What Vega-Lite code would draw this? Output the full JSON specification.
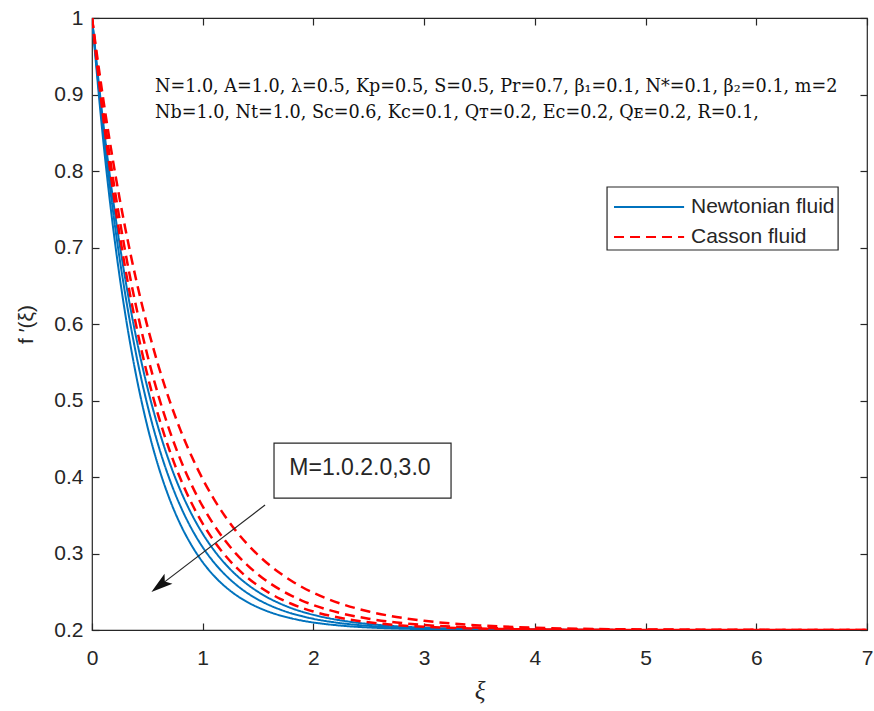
{
  "$schema": "https://vega.github.io/schema/vega-lite/v6.json",
  "autosize": {"type": "none"},
  "padding": {"left": 92, "top": 18, "right": 7, "bottom": 81},
  "width": 775,
  "height": 612,
  "background": "white",
  "datasets": {
    "curves": [
      {"xi":0,"f":1,"c":"N1","fluid":"Newtonian fluid"},{"xi":0.1,"f":0.842,"c":"N1","fluid":"Newtonian fluid"},{"xi":0.2,"f":0.7152,"c":"N1","fluid":"Newtonian fluid"},{"xi":0.3,"f":0.6135,"c":"N1","fluid":"Newtonian fluid"},{"xi":0.4,"f":0.5318,"c":"N1","fluid":"Newtonian fluid"},{"xi":0.5,"f":0.4663,"c":"N1","fluid":"Newtonian fluid"},{"xi":0.6,"f":0.4137,"c":"N1","fluid":"Newtonian fluid"},{"xi":0.7,"f":0.3715,"c":"N1","fluid":"Newtonian fluid"},{"xi":0.8,"f":0.3376,"c":"N1","fluid":"Newtonian fluid"},{"xi":0.9,"f":0.3105,"c":"N1","fluid":"Newtonian fluid"},{"xi":1,"f":0.2886,"c":"N1","fluid":"Newtonian fluid"},{"xi":1.1,"f":0.2711,"c":"N1","fluid":"Newtonian fluid"},{"xi":1.2,"f":0.2571,"c":"N1","fluid":"Newtonian fluid"},{"xi":1.3,"f":0.2458,"c":"N1","fluid":"Newtonian fluid"},{"xi":1.4,"f":0.2368,"c":"N1","fluid":"Newtonian fluid"},{"xi":1.5,"f":0.2295,"c":"N1","fluid":"Newtonian fluid"},{"xi":1.6,"f":0.2237,"c":"N1","fluid":"Newtonian fluid"},{"xi":1.7,"f":0.219,"c":"N1","fluid":"Newtonian fluid"},{"xi":1.8,"f":0.2153,"c":"N1","fluid":"Newtonian fluid"},{"xi":1.9,"f":0.2122,"c":"N1","fluid":"Newtonian fluid"},{"xi":2,"f":0.2098,"c":"N1","fluid":"Newtonian fluid"},{"xi":2.25,"f":0.2057,"c":"N1","fluid":"Newtonian fluid"},{"xi":2.5,"f":0.2033,"c":"N1","fluid":"Newtonian fluid"},{"xi":2.75,"f":0.2019,"c":"N1","fluid":"Newtonian fluid"},{"xi":3,"f":0.2011,"c":"N1","fluid":"Newtonian fluid"},{"xi":3.5,"f":0.2004,"c":"N1","fluid":"Newtonian fluid"},{"xi":4,"f":0.2001,"c":"N1","fluid":"Newtonian fluid"},{"xi":5,"f":0.2,"c":"N1","fluid":"Newtonian fluid"},{"xi":6,"f":0.2,"c":"N1","fluid":"Newtonian fluid"},{"xi":7,"f":0.2,"c":"N1","fluid":"Newtonian fluid"},
      {"xi":0,"f":1,"c":"N2","fluid":"Newtonian fluid"},{"xi":0.1,"f":0.855,"c":"N2","fluid":"Newtonian fluid"},{"xi":0.2,"f":0.7362,"c":"N2","fluid":"Newtonian fluid"},{"xi":0.3,"f":0.639,"c":"N2","fluid":"Newtonian fluid"},{"xi":0.4,"f":0.5594,"c":"N2","fluid":"Newtonian fluid"},{"xi":0.5,"f":0.4943,"c":"N2","fluid":"Newtonian fluid"},{"xi":0.6,"f":0.441,"c":"N2","fluid":"Newtonian fluid"},{"xi":0.7,"f":0.3973,"c":"N2","fluid":"Newtonian fluid"},{"xi":0.8,"f":0.3615,"c":"N2","fluid":"Newtonian fluid"},{"xi":0.9,"f":0.3322,"c":"N2","fluid":"Newtonian fluid"},{"xi":1,"f":0.3082,"c":"N2","fluid":"Newtonian fluid"},{"xi":1.1,"f":0.2886,"c":"N2","fluid":"Newtonian fluid"},{"xi":1.2,"f":0.2726,"c":"N2","fluid":"Newtonian fluid"},{"xi":1.3,"f":0.2594,"c":"N2","fluid":"Newtonian fluid"},{"xi":1.4,"f":0.2486,"c":"N2","fluid":"Newtonian fluid"},{"xi":1.5,"f":0.2398,"c":"N2","fluid":"Newtonian fluid"},{"xi":1.6,"f":0.2326,"c":"N2","fluid":"Newtonian fluid"},{"xi":1.7,"f":0.2267,"c":"N2","fluid":"Newtonian fluid"},{"xi":1.8,"f":0.2218,"c":"N2","fluid":"Newtonian fluid"},{"xi":1.9,"f":0.2179,"c":"N2","fluid":"Newtonian fluid"},{"xi":2,"f":0.2146,"c":"N2","fluid":"Newtonian fluid"},{"xi":2.25,"f":0.2089,"c":"N2","fluid":"Newtonian fluid"},{"xi":2.5,"f":0.2054,"c":"N2","fluid":"Newtonian fluid"},{"xi":2.75,"f":0.2033,"c":"N2","fluid":"Newtonian fluid"},{"xi":3,"f":0.202,"c":"N2","fluid":"Newtonian fluid"},{"xi":3.5,"f":0.2007,"c":"N2","fluid":"Newtonian fluid"},{"xi":4,"f":0.2003,"c":"N2","fluid":"Newtonian fluid"},{"xi":5,"f":0.2,"c":"N2","fluid":"Newtonian fluid"},{"xi":6,"f":0.2,"c":"N2","fluid":"Newtonian fluid"},{"xi":7,"f":0.2,"c":"N2","fluid":"Newtonian fluid"},
      {"xi":0,"f":1,"c":"N3","fluid":"Newtonian fluid"},{"xi":0.1,"f":0.8649,"c":"N3","fluid":"Newtonian fluid"},{"xi":0.2,"f":0.7526,"c":"N3","fluid":"Newtonian fluid"},{"xi":0.3,"f":0.6593,"c":"N3","fluid":"Newtonian fluid"},{"xi":0.4,"f":0.5817,"c":"N3","fluid":"Newtonian fluid"},{"xi":0.5,"f":0.5172,"c":"N3","fluid":"Newtonian fluid"},{"xi":0.6,"f":0.4637,"c":"N3","fluid":"Newtonian fluid"},{"xi":0.7,"f":0.4191,"c":"N3","fluid":"Newtonian fluid"},{"xi":0.8,"f":0.3821,"c":"N3","fluid":"Newtonian fluid"},{"xi":0.9,"f":0.3514,"c":"N3","fluid":"Newtonian fluid"},{"xi":1,"f":0.3258,"c":"N3","fluid":"Newtonian fluid"},{"xi":1.1,"f":0.3046,"c":"N3","fluid":"Newtonian fluid"},{"xi":1.2,"f":0.2869,"c":"N3","fluid":"Newtonian fluid"},{"xi":1.3,"f":0.2722,"c":"N3","fluid":"Newtonian fluid"},{"xi":1.4,"f":0.26,"c":"N3","fluid":"Newtonian fluid"},{"xi":1.5,"f":0.2499,"c":"N3","fluid":"Newtonian fluid"},{"xi":1.6,"f":0.2414,"c":"N3","fluid":"Newtonian fluid"},{"xi":1.7,"f":0.2345,"c":"N3","fluid":"Newtonian fluid"},{"xi":1.8,"f":0.2286,"c":"N3","fluid":"Newtonian fluid"},{"xi":1.9,"f":0.2238,"c":"N3","fluid":"Newtonian fluid"},{"xi":2,"f":0.2198,"c":"N3","fluid":"Newtonian fluid"},{"xi":2.25,"f":0.2125,"c":"N3","fluid":"Newtonian fluid"},{"xi":2.5,"f":0.2078,"c":"N3","fluid":"Newtonian fluid"},{"xi":2.75,"f":0.2049,"c":"N3","fluid":"Newtonian fluid"},{"xi":3,"f":0.2031,"c":"N3","fluid":"Newtonian fluid"},{"xi":3.5,"f":0.2012,"c":"N3","fluid":"Newtonian fluid"},{"xi":4,"f":0.2005,"c":"N3","fluid":"Newtonian fluid"},{"xi":5,"f":0.2001,"c":"N3","fluid":"Newtonian fluid"},{"xi":6,"f":0.2,"c":"N3","fluid":"Newtonian fluid"},{"xi":7,"f":0.2,"c":"N3","fluid":"Newtonian fluid"},
      {"xi":0,"f":1,"c":"C1","fluid":"Casson fluid"},{"xi":0.1,"f":0.8716,"c":"C1","fluid":"Casson fluid"},{"xi":0.2,"f":0.7638,"c":"C1","fluid":"Casson fluid"},{"xi":0.3,"f":0.6733,"c":"C1","fluid":"Casson fluid"},{"xi":0.4,"f":0.5973,"c":"C1","fluid":"Casson fluid"},{"xi":0.5,"f":0.5335,"c":"C1","fluid":"Casson fluid"},{"xi":0.6,"f":0.4799,"c":"C1","fluid":"Casson fluid"},{"xi":0.7,"f":0.435,"c":"C1","fluid":"Casson fluid"},{"xi":0.8,"f":0.3973,"c":"C1","fluid":"Casson fluid"},{"xi":0.9,"f":0.3656,"c":"C1","fluid":"Casson fluid"},{"xi":1,"f":0.339,"c":"C1","fluid":"Casson fluid"},{"xi":1.1,"f":0.3167,"c":"C1","fluid":"Casson fluid"},{"xi":1.2,"f":0.298,"c":"C1","fluid":"Casson fluid"},{"xi":1.3,"f":0.2822,"c":"C1","fluid":"Casson fluid"},{"xi":1.4,"f":0.269,"c":"C1","fluid":"Casson fluid"},{"xi":1.5,"f":0.2579,"c":"C1","fluid":"Casson fluid"},{"xi":1.6,"f":0.2486,"c":"C1","fluid":"Casson fluid"},{"xi":1.7,"f":0.2408,"c":"C1","fluid":"Casson fluid"},{"xi":1.8,"f":0.2343,"c":"C1","fluid":"Casson fluid"},{"xi":1.9,"f":0.2288,"c":"C1","fluid":"Casson fluid"},{"xi":2,"f":0.2242,"c":"C1","fluid":"Casson fluid"},{"xi":2.25,"f":0.2156,"c":"C1","fluid":"Casson fluid"},{"xi":2.5,"f":0.2101,"c":"C1","fluid":"Casson fluid"},{"xi":2.75,"f":0.2065,"c":"C1","fluid":"Casson fluid"},{"xi":3,"f":0.2042,"c":"C1","fluid":"Casson fluid"},{"xi":3.5,"f":0.2018,"c":"C1","fluid":"Casson fluid"},{"xi":4,"f":0.2007,"c":"C1","fluid":"Casson fluid"},{"xi":5,"f":0.2001,"c":"C1","fluid":"Casson fluid"},{"xi":6,"f":0.2,"c":"C1","fluid":"Casson fluid"},{"xi":7,"f":0.2,"c":"C1","fluid":"Casson fluid"},
      {"xi":0,"f":1,"c":"C2","fluid":"Casson fluid"},{"xi":0.1,"f":0.8817,"c":"C2","fluid":"Casson fluid"},{"xi":0.2,"f":0.7809,"c":"C2","fluid":"Casson fluid"},{"xi":0.3,"f":0.695,"c":"C2","fluid":"Casson fluid"},{"xi":0.4,"f":0.6218,"c":"C2","fluid":"Casson fluid"},{"xi":0.5,"f":0.5594,"c":"C2","fluid":"Casson fluid"},{"xi":0.6,"f":0.5063,"c":"C2","fluid":"Casson fluid"},{"xi":0.7,"f":0.461,"c":"C2","fluid":"Casson fluid"},{"xi":0.8,"f":0.4224,"c":"C2","fluid":"Casson fluid"},{"xi":0.9,"f":0.3895,"c":"C2","fluid":"Casson fluid"},{"xi":1,"f":0.3615,"c":"C2","fluid":"Casson fluid"},{"xi":1.1,"f":0.3376,"c":"C2","fluid":"Casson fluid"},{"xi":1.2,"f":0.3173,"c":"C2","fluid":"Casson fluid"},{"xi":1.3,"f":0.2999,"c":"C2","fluid":"Casson fluid"},{"xi":1.4,"f":0.2852,"c":"C2","fluid":"Casson fluid"},{"xi":1.5,"f":0.2726,"c":"C2","fluid":"Casson fluid"},{"xi":1.6,"f":0.2618,"c":"C2","fluid":"Casson fluid"},{"xi":1.7,"f":0.2527,"c":"C2","fluid":"Casson fluid"},{"xi":1.8,"f":0.2449,"c":"C2","fluid":"Casson fluid"},{"xi":1.9,"f":0.2382,"c":"C2","fluid":"Casson fluid"},{"xi":2,"f":0.2326,"c":"C2","fluid":"Casson fluid"},{"xi":2.25,"f":0.2219,"c":"C2","fluid":"Casson fluid"},{"xi":2.5,"f":0.2147,"c":"C2","fluid":"Casson fluid"},{"xi":2.75,"f":0.2098,"c":"C2","fluid":"Casson fluid"},{"xi":3,"f":0.2066,"c":"C2","fluid":"Casson fluid"},{"xi":3.5,"f":0.203,"c":"C2","fluid":"Casson fluid"},{"xi":4,"f":0.2013,"c":"C2","fluid":"Casson fluid"},{"xi":5,"f":0.2003,"c":"C2","fluid":"Casson fluid"},{"xi":6,"f":0.2001,"c":"C2","fluid":"Casson fluid"},{"xi":7,"f":0.2,"c":"C2","fluid":"Casson fluid"},
      {"xi":0,"f":1,"c":"C3","fluid":"Casson fluid"},{"xi":0.1,"f":0.8955,"c":"C3","fluid":"Casson fluid"},{"xi":0.2,"f":0.8046,"c":"C3","fluid":"Casson fluid"},{"xi":0.3,"f":0.7256,"c":"C3","fluid":"Casson fluid"},{"xi":0.4,"f":0.657,"c":"C3","fluid":"Casson fluid"},{"xi":0.5,"f":0.5973,"c":"C3","fluid":"Casson fluid"},{"xi":0.6,"f":0.5454,"c":"C3","fluid":"Casson fluid"},{"xi":0.7,"f":0.5002,"c":"C3","fluid":"Casson fluid"},{"xi":0.8,"f":0.461,"c":"C3","fluid":"Casson fluid"},{"xi":0.9,"f":0.427,"c":"C3","fluid":"Casson fluid"},{"xi":1,"f":0.3973,"c":"C3","fluid":"Casson fluid"},{"xi":1.1,"f":0.3715,"c":"C3","fluid":"Casson fluid"},{"xi":1.2,"f":0.3491,"c":"C3","fluid":"Casson fluid"},{"xi":1.3,"f":0.3296,"c":"C3","fluid":"Casson fluid"},{"xi":1.4,"f":0.3127,"c":"C3","fluid":"Casson fluid"},{"xi":1.5,"f":0.298,"c":"C3","fluid":"Casson fluid"},{"xi":1.6,"f":0.2852,"c":"C3","fluid":"Casson fluid"},{"xi":1.7,"f":0.2741,"c":"C3","fluid":"Casson fluid"},{"xi":1.8,"f":0.2644,"c":"C3","fluid":"Casson fluid"},{"xi":1.9,"f":0.2559,"c":"C3","fluid":"Casson fluid"},{"xi":2,"f":0.2486,"c":"C3","fluid":"Casson fluid"},{"xi":2.25,"f":0.2343,"c":"C3","fluid":"Casson fluid"},{"xi":2.5,"f":0.2242,"c":"C3","fluid":"Casson fluid"},{"xi":2.75,"f":0.217,"c":"C3","fluid":"Casson fluid"},{"xi":3,"f":0.212,"c":"C3","fluid":"Casson fluid"},{"xi":3.5,"f":0.206,"c":"C3","fluid":"Casson fluid"},{"xi":4,"f":0.203,"c":"C3","fluid":"Casson fluid"},{"xi":5,"f":0.2007,"c":"C3","fluid":"Casson fluid"},{"xi":6,"f":0.2002,"c":"C3","fluid":"Casson fluid"},{"xi":7,"f":0.2,"c":"C3","fluid":"Casson fluid"}
    ],
    "legendRows": [
      {"x1": 4.715, "x2": 5.348, "f": 0.7529, "tx": 5.41, "fluid": "Newtonian fluid"},
      {"x1": 4.715, "x2": 5.348, "f": 0.7137, "tx": 5.41, "fluid": "Casson fluid"}
    ]
  },
  "layer": [
    {
      "data": {"name": "curves"},
      "transform": [{"filter": "datum.fluid == 'Newtonian fluid'"}],
      "mark": {"type": "line", "strokeWidth": 2, "interpolate": "monotone", "clip": true},
      "encoding": {
        "x": {"field": "xi", "type": "quantitative", "scale": {"domain": [0, 7], "nice": false},
              "axis": {"title": "ξ", "values": [0,1,2,3,4,5,6,7], "labelPadding": 24, "titleFont": "Liberation Serif", "titleFontStyle": "italic", "titleFontSize": 25, "titleFontWeight": "normal", "titlePadding": 10}},
        "y": {"field": "f", "type": "quantitative", "scale": {"domain": [0.2, 1], "nice": false},
              "axis": {"title": "f ′(ξ)", "values": [0.2,0.3,0.4,0.5,0.6,0.7,0.8,0.9,1], "format": ".1~f", "labelPadding": 16, "titleFont": "Liberation Sans", "titleFontSize": 21, "titleFontWeight": "normal", "titlePadding": 17}},
        "color": {"field": "fluid", "type": "nominal", "scale": {"domain": ["Newtonian fluid", "Casson fluid"], "range": ["#0072BD", "#FF0000"]}, "legend": null},
        "strokeDash": {"field": "fluid", "type": "nominal", "scale": {"domain": ["Newtonian fluid", "Casson fluid"], "range": [[1, 0], [10, 6]]}, "legend": null},
        "detail": {"field": "c"}
      }
    },
    {
      "data": {"name": "curves"},
      "transform": [{"filter": "datum.fluid == 'Casson fluid'"}],
      "mark": {"type": "line", "strokeWidth": 2.5, "interpolate": "monotone", "clip": true},
      "encoding": {
        "x": {"field": "xi", "type": "quantitative", "axis": null},
        "y": {"field": "f", "type": "quantitative", "axis": null},
        "color": {"field": "fluid", "type": "nominal", "legend": null},
        "strokeDash": {"field": "fluid", "type": "nominal", "legend": null},
        "detail": {"field": "c"}
      }
    },
    {
      "data": {"values": [
        {"xi": 0.569, "f": 0.9098, "label": "N=1.0, A=1.0, λ=0.5, Kp=0.5, S=0.5, Pr=0.7, β₁=0.1, N*=0.1, β₂=0.1, m=2"},
        {"xi": 0.569, "f": 0.8758, "label": "Nb=1.0, Nt=1.0, Sc=0.6, Kc=0.1, Qᴛ=0.2, Ec=0.2, Qᴇ=0.2, R=0.1,"}
      ]},
      "mark": {"type": "text", "align": "left", "baseline": "middle", "font": "DejaVu Serif", "fontSize": 17.6, "color": "#111111"},
      "encoding": {
        "x": {"field": "xi", "type": "quantitative", "axis": null},
        "y": {"field": "f", "type": "quantitative", "axis": null},
        "text": {"field": "label"}
      }
    },
    {
      "data": {"values": [{"x1": 4.652, "x2": 6.739, "y1": 0.7791, "y2": 0.6967}]},
      "mark": {"type": "rect", "fill": "white", "stroke": "#262626", "strokeWidth": 1.2},
      "encoding": {
        "x": {"field": "x1", "type": "quantitative", "axis": null},
        "x2": {"field": "x2"},
        "y": {"field": "y1", "type": "quantitative", "axis": null},
        "y2": {"field": "y2"}
      }
    },
    {
      "data": {"name": "legendRows"},
      "mark": {"type": "rule", "strokeWidth": 2},
      "encoding": {
        "x": {"field": "x1", "type": "quantitative", "axis": null},
        "x2": {"field": "x2"},
        "y": {"field": "f", "type": "quantitative", "axis": null},
        "color": {"field": "fluid", "type": "nominal", "legend": null},
        "strokeDash": {"field": "fluid", "type": "nominal", "legend": null}
      }
    },
    {
      "data": {"name": "legendRows"},
      "mark": {"type": "text", "align": "left", "baseline": "middle", "font": "Liberation Sans", "fontSize": 21, "color": "#262626"},
      "encoding": {
        "x": {"field": "tx", "type": "quantitative", "axis": null},
        "y": {"field": "f", "type": "quantitative", "axis": null},
        "text": {"field": "fluid"}
      }
    },
    {
      "data": {"values": [{"x1": 1.644, "x2": 3.243, "y1": 0.4444, "y2": 0.3725}]},
      "mark": {"type": "rect", "fill": "white", "stroke": "#262626", "strokeWidth": 1.2},
      "encoding": {
        "x": {"field": "x1", "type": "quantitative", "axis": null},
        "x2": {"field": "x2"},
        "y": {"field": "y1", "type": "quantitative", "axis": null},
        "y2": {"field": "y2"}
      }
    },
    {
      "data": {"values": [{"xi": 2.42, "f": 0.4118, "label": "M=1.0.2.0,3.0"}]},
      "mark": {"type": "text", "align": "center", "baseline": "middle", "font": "Liberation Sans", "fontSize": 23, "color": "#262626"},
      "encoding": {
        "x": {"field": "xi", "type": "quantitative", "axis": null},
        "y": {"field": "f", "type": "quantitative", "axis": null},
        "text": {"field": "label"}
      }
    },
    {
      "data": {"values": [{"x1": 1.563, "y1": 0.3634, "x2": 0.6, "y2": 0.2567}]},
      "mark": {"type": "rule", "color": "#262626", "strokeWidth": 1.2},
      "encoding": {
        "x": {"field": "x1", "type": "quantitative", "axis": {"orient": "top", "labels": false, "title": null, "values": [0,1,2,3,4,5,6,7]}},
        "y": {"field": "y1", "type": "quantitative", "axis": {"orient": "right", "labels": false, "title": null, "values": [0.2,0.3,0.4,0.5,0.6,0.7,0.8,0.9,1]}},
        "x2": {"field": "x2"},
        "y2": {"field": "y2"}
      }
    },
    {
      "data": {"values": [{"xi": 0.62, "f": 0.259}]},
      "mark": {"type": "point", "shape": "M0,-1L0.55,0.85L0,0.45L-0.55,0.85Z", "filled": true, "color": "#111111", "size": 550, "angle": 232, "opacity": 1},
      "encoding": {
        "x": {"field": "xi", "type": "quantitative", "axis": null},
        "y": {"field": "f", "type": "quantitative", "axis": null}
      }
    }
  ],
  "resolve": {"axis": {"x": "independent", "y": "independent"}},
  "config": {
    "view": {"stroke": "#262626", "strokeWidth": 1.2},
    "axis": {
      "grid": false,
      "domain": false,
      "labelFlush": false,
      "tickColor": "#262626",
      "tickSize": -7,
      "tickWidth": 1.2,
      "labelFont": "Liberation Sans",
      "labelFontSize": 21,
      "labelColor": "#262626",
      "titleColor": "#262626"
    }
  }
}
